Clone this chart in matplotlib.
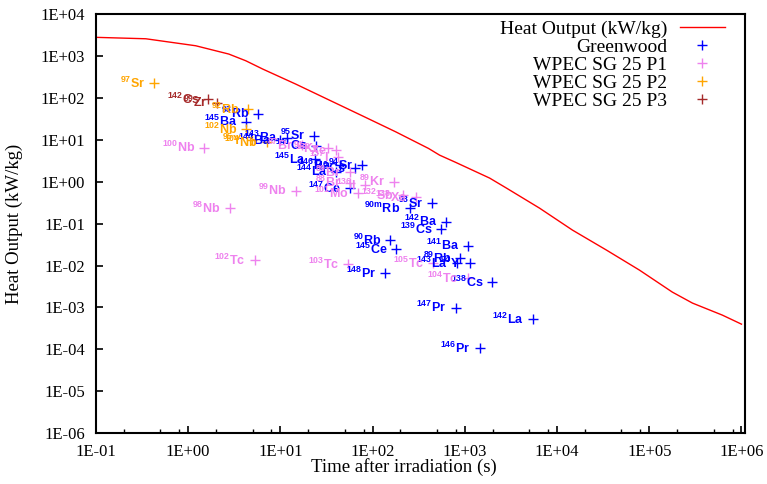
import matplotlib
matplotlib.use('Agg')
import numpy as np
import matplotlib.pyplot as plt
from matplotlib.ticker import FixedLocator, FuncFormatter, NullFormatter

plt.rcParams['font.family'] = 'Liberation Serif'
plt.rcParams['mathtext.fontset'] = 'custom'
plt.rcParams['mathtext.bf'] = 'Liberation Sans:bold'
plt.rcParams['mathtext.rm'] = 'Liberation Sans'

# total heat output curve
heat_t = [0.1, 0.348, 1.21, 2.76, 4.22, 6.45, 14.7, 33.4, 78, 178, 405, 533, 794,
          1858, 2840, 6460, 1.47e4, 3.44e4, 7.83e4, 1.78e5, 2.94e5, 6.21e5, 1.0e6]
heat_q = [2780, 2570, 1750, 1110, 768, 486, 213, 90, 37, 15.5, 6.2, 4.3, 2.9,
          1.22, 0.70, 0.234, 0.070, 0.0233, 0.00777, 0.00232, 0.00127, 6.55e-4, 3.99e-4]

# Greenwood
gw_mass = ['93', '145', '144', '143', '95', '141', '145', '144', '146', '140', '94', '147',
           '90m', '93', '142', '139', '90', '145', '141', '89', '143', '94', '138', '148',
           '147', '142', '146']
gw_elem = ['Rb', 'Ba', 'Ba', 'Ba', 'Sr', 'Cs', 'La', 'La', 'Ba', 'Cs', 'Sr', 'Ce',
           'Rb', 'Sr', 'Ba', 'Cs', 'Rb', 'Ce', 'Ba', 'Rb', 'La', 'Y', 'Cs', 'Pr',
           'Pr', 'La', 'Pr']
gw_time = [5.79, 4.29, 9.85, 11.7, 23.2, 24.6, 23.6, 40.5, 44.0, 64.0, 77.5, 56.5,
           252, 444, 631, 557, 156, 181, 1081, 894, 815, 1127, 1987, 138,
           795, 5470, 1446]
gw_heat = [41.1, 26.5, 9.84, 11.0, 12.3, 7.27, 3.41, 1.72, 2.49, 2.11, 2.49, 0.692,
           0.231, 0.303, 0.110, 0.0727, 0.0404, 0.0242, 0.0295, 0.0148, 0.0114, 0.0112, 0.00395, 0.00648,
           0.000978, 0.000526, 0.000105]

# WPEC SG 25 P1
p1_mass = ['100', '98', '102', '99', '103', '105', '104', '89', '136', '88', '101',
           '132', '138', '87', '91', '139', '137', '89']
p1_elem = ['Nb', 'Nb', 'Tc', 'Nb', 'Tc', 'Tc', 'Tc', 'Kr', 'I', 'Br', 'Mo',
           'Sb', 'Xe', 'Br', 'Kr', 'Xe', 'I', 'Br']
p1_time = [1.49, 2.83, 5.28, 14.7, 54.1, 451, 1072, 171, 82, 56.6, 69,
           212, 294, 17.1, 33, 40.5, 41.9, 56.5]
p1_heat = [6.44, 0.234, 0.0135, 0.607, 0.0106, 0.0112, 0.0050, 1.0, 0.83, 0.93, 0.534,
           0.479, 0.428, 7.47, 6.23, 5.68, 3.87, 1.69]

# WPEC SG 25 P2
p2_mass = ['97', '92', '102', '95', '104']
p2_elem = ['Sr', 'Rb', 'Nb', 'Y', 'Nb']
p2_time = [0.428, 4.47, 4.29, 4.9, 7.1]
p2_heat = [225, 54, 18.0, 9.8, 8.8]

# WPEC SG 25 P3
p3_mass = ['142', '99']
p3_elem = ['Cs', 'Zr']
p3_time = [1.65, 2.06]
p3_heat = [93.6, 76.4]


def tag_points(ax, times, heats, masses, elems, color):
    for t, q, m, e in zip(times, heats, masses, elems):
        ax.annotate(r'$^{\mathbf{%s}}\mathbf{%s}$' % (m, e), (t, q),
                    xytext=(-6.5, -3.2), textcoords='offset points',
                    ha='right', va='baseline', color=color, fontsize=9)


fig = plt.figure(figsize=(7.67, 4.84), dpi=100)
ax = fig.add_axes([0.125, 0.105, 0.846, 0.866])

ax.plot(heat_t, heat_q, color='red', lw=1, label='Heat Output (kW/kg)')

series = [
    (gw_time, gw_heat, gw_mass, gw_elem, '#0000ff', 'Greenwood'),
    (p1_time, p1_heat, p1_mass, p1_elem, 'violet', 'WPEC SG 25 P1'),
    (p2_time, p2_heat, p2_mass, p2_elem, 'orange', 'WPEC SG 25 P2'),
    (p3_time, p3_heat, p3_mass, p3_elem, '#a52a2a', 'WPEC SG 25 P3'),
]
for t, q, m, e, c, name in series:
    ax.plot(t, q, '+', ls='none', ms=6.5, mew=1, color=c, label=name)
    tag_points(ax, t, q, m, e, c)

ax.set_xscale('log')
ax.set_yscale('log')
ax.set_xlim(0.1, 1.085e6)
ax.set_ylim(1e-6, 1e4)

fmt = FuncFormatter(lambda v, p: '1E%+03d' % int(round(np.log10(v))))
ax.xaxis.set_major_locator(FixedLocator([10.0 ** k for k in range(-1, 7)]))
ax.yaxis.set_major_locator(FixedLocator([10.0 ** k for k in range(-6, 5)]))
ax.xaxis.set_major_formatter(fmt)
ax.yaxis.set_major_formatter(fmt)
ax.xaxis.set_minor_locator(FixedLocator([m * 10.0 ** k for k in range(-1, 6) for m in (2, 5, 8)]))
ax.xaxis.set_minor_formatter(NullFormatter())
ax.yaxis.set_minor_locator(FixedLocator([]))
ax.tick_params(which='major', direction='in', length=5, width=1.2, labelsize=12, pad=8)
ax.tick_params(which='minor', direction='in', length=3, width=1)
for s in ax.spines.values():
    s.set_linewidth(1.5)

ax.set_xlabel('Time after irradiation (s)', fontsize=13.5, va='center')
ax.set_ylabel('Heat Output (kW/kg)', fontsize=13.5, va='center')
ax.xaxis.set_label_coords(0.475, -0.081)
ax.yaxis.set_label_coords(-0.126, 0.5)

ax.legend(loc='upper right', bbox_to_anchor=(0.981, 1.004), markerfirst=False,
          frameon=False, fontsize=14, handlelength=2.3, handletextpad=0.67,
          labelspacing=0.02, borderaxespad=0)

fig.savefig('out.png', dpi=100)
